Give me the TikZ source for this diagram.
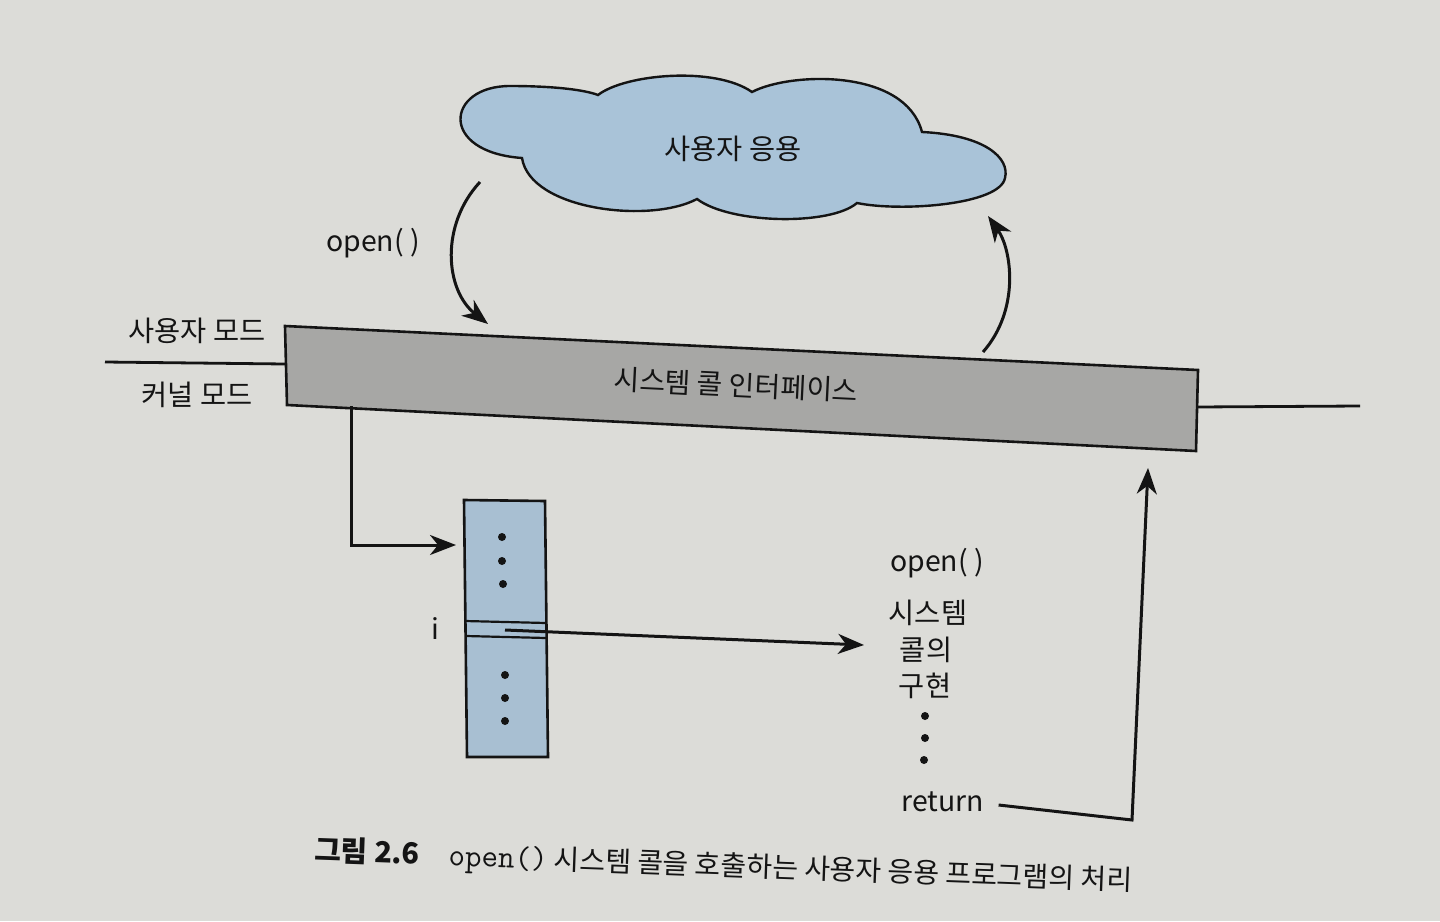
\documentclass[tikz,border=0pt]{standalone}
\usepackage{fontspec}
\setmainfont{Noto Sans CJK KR}
\usetikzlibrary{arrows.meta}
\definecolor{paper}{HTML}{DCDCD8}
\definecolor{cloudblue}{HTML}{A9C3D8}
\definecolor{tblblue}{HTML}{A8BFD2}
\definecolor{bargray}{HTML}{A7A7A5}
\definecolor{ink}{HTML}{141414}
\tikzset{
  lbl/.style={inner sep=0pt, text=ink, font=\fontsize{14.2}{16}\selectfont},
  conn/.style={draw=ink, line width=1.5pt, -{Stealth[length=13pt,width=10pt,inset=4pt]}},
  plain/.style={draw=ink, line width=1.4pt},
  dotc/.style={fill=ink},
}
\begin{document}
\begin{tikzpicture}[x=0.5pt,y=-0.5pt]
\fill[paper] (0,0) rectangle (1440,921);
\useasboundingbox (0,0) rectangle (1440,921);

% cloud
\filldraw[fill=cloudblue, draw=ink, line width=1.2pt]
  (598,95) .. controls (625,74) and (715,66) .. (752,92)
  .. controls (790,72) and (905,68) .. (922,132)
  .. controls (985,135) and (1010,158) .. (1005,178)
  .. controls (1000,205) and (900,212) .. (857,203)
  .. controls (830,226) and (730,224) .. (697,199)
  .. controls (650,224) and (530,210) .. (522,158)
  .. controls (438,152) and (446,86) .. (510,86)
  .. controls (555,86) and (585,90) .. (598,95) -- cycle;
\node[lbl] (app) at (733,149) {사용자 응용};
\coordinate (cloudL) at (480,182);
\coordinate (cloudR) at (988,216);

% mode lines
\node[lbl] (umode) at (197,331) {사용자 모드};
\node[lbl] (kmode) at (197,395) {커널 모드};
\coordinate (lineL) at (105,362);
\coordinate (lineR) at (1360,406);

% system call interface bar
\coordinate (b1) at (285,326);
\coordinate (b2) at (1198,370);
\coordinate (b3) at (1196,451);
\coordinate (b4) at (287,405);
\filldraw[fill=bargray, draw=ink, line width=1.3pt] (b1) -- (b2) -- (b3) -- (b4) -- cycle;
\node[lbl, rotate=-2.8, font=\fontsize{14}{16}\selectfont] (sci) at (736,385) {시스템 콜 인터페이스};
\draw[plain] (lineL) -- (285,364);
\draw[plain] (1197,407) -- (lineR);

% open() arrow
\node[lbl] (openA) at (373,243) {open( )};
\coordinate (barIn) at (488,324);
\draw[conn] (cloudL) .. controls (440,225) and (445,290) .. (barIn);

% return arrow to app
\coordinate (barOut) at (983,352);
\draw[conn] (barOut) .. controls (1020,310) and (1012,250) .. (cloudR);

% table
\filldraw[fill=tblblue, draw=ink, line width=1.3pt] (464,500) -- (545,501) -- (548,757) -- (467,757) -- cycle;
\draw[ink, line width=1.1pt] (465,621) -- (546,623);
\draw[ink, line width=1.1pt] (466,636) -- (546,638);
\foreach \p in {(502,537),(502,561),(503,584),(505,675),(505,698),(505,721)}
  \fill[dotc] \p circle (4);
\coordinate (tblIn) at (456,545);
\coordinate (rowI) at (505,630);
\node[lbl] (ilabel) at (435,628) {i};

% L connector
\coordinate (barDown) at (351,406);
\draw[conn] (barDown) -- (351,545) -- (tblIn);

% implementation column
\node[lbl] (openB) at (937,563) {open( )};
\node[lbl] (impl1) at (928,613) {시스템};
\node[lbl] (impl2) at (926,650) {콜의};
\node[lbl] (impl3) at (925,686) {구현};
\foreach \p in {(925,716),(925,738),(924,760)}
  \fill[dotc] \p circle (4);
\node[lbl] (ret) at (943,802) {return};
\draw[conn] (rowI) -- (864,645);

% return line up to bar
\coordinate (barRet) at (1148,468);
\draw[conn] (ret.east) ++(14,3) -- (1132,820) -- (barRet);

% caption
\node[inner sep=0pt, text=ink, rotate=-2.1, anchor=west] (cap) at (314,852)
  {\fontsize{14.5}{16}\selectfont\bfseries 그림 2.6\hspace{1em}\mdseries\fontsize{14}{16}\selectfont{\ttfamily\fontsize{16}{16}\selectfont open()} 시스템 콜을 호출하는 사용자 응용 프로그램의 처리};
\end{tikzpicture}
\end{document}
